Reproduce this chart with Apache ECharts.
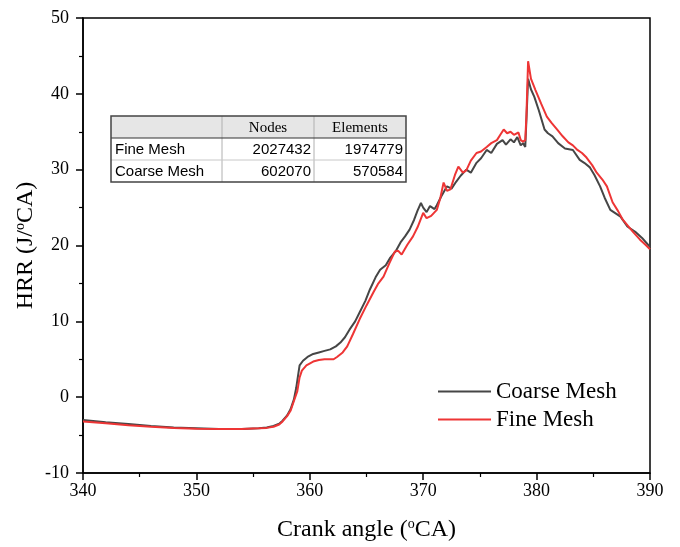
<!DOCTYPE html>
<html>
<head>
<meta charset="utf-8">
<script src="https://cdn.jsdelivr.net/npm/echarts@6/dist/echarts.min.js"></script>
<style>
html,body{margin:0;padding:0;background:#fff;}
#main{width:680px;height:547px;}
</style>
</head>
<body>
<div id="main"></div>
<script>
// ---- data ----
const coarseX = [340,342,344,346,348,350,352,354,355.5,356.2,356.8,357.3,357.6,358.0,358.3,358.6,358.8,359.0,359.1,359.4,359.8,360.3,360.8,361.3,361.8,362.3,362.7,363.1,363.5,364.0,364.4,364.9,365.3,365.8,366.2,366.7,367.1,367.6,368.0,368.4,368.8,369.2,369.5,369.8,370.0,370.3,370.6,371.0,371.2,371.6,372.1,372.5,372.9,373.3,373.8,374.2,374.7,375.1,375.6,376.0,376.5,377.0,377.3,377.7,378.0,378.3,378.6,378.8,379.0,379.1,379.25,379.5,379.8,380.2,380.7,381.0,381.4,381.9,382.5,383.2,383.8,384.2,384.7,385.1,385.6,386.0,386.5,387.0,387.4,388.0,388.7,389.3,390.0];
const coarseY = [-3.0,-3.3,-3.55,-3.8,-4.0,-4.1,-4.2,-4.2,-4.1,-4.0,-3.8,-3.5,-3.1,-2.4,-1.6,-0.3,1.2,3.2,4.2,4.8,5.3,5.7,5.9,6.1,6.3,6.7,7.2,7.9,8.9,10.0,11.2,12.7,14.2,15.8,16.8,17.4,18.4,19.3,20.4,21.2,22.1,23.4,24.6,25.6,25.0,24.4,25.2,24.8,25.3,26.5,27.8,27.5,28.4,29.2,30.0,29.6,30.9,31.5,32.6,32.2,33.4,33.9,33.3,34.0,33.6,34.3,33.2,33.5,33.0,36.5,42.0,40.6,39.6,37.8,35.3,34.8,34.4,33.5,32.8,32.6,31.3,30.9,30.3,29.3,27.8,26.3,24.7,24.2,23.8,22.5,21.8,21.0,19.8];

const fineX = [340,342,344,346,348,350,352,354,355.5,356.2,356.8,357.3,357.6,358.0,358.3,358.6,358.9,359.1,359.3,359.7,360.3,360.8,361.3,361.8,362.1,362.4,362.9,363.3,363.8,364.4,365.0,365.6,366.0,366.5,367.0,367.5,367.8,368.1,368.6,369.1,369.5,370.0,370.3,370.7,371.2,371.5,371.8,372.1,372.4,372.8,373.1,373.5,373.8,374.2,374.7,375.1,375.6,376.0,376.5,376.8,377.1,377.4,377.7,378.0,378.4,378.6,378.8,379.0,379.1,379.25,379.5,379.9,380.4,380.9,381.3,381.8,382.3,382.8,383.2,383.6,384.0,384.4,384.9,385.3,385.8,386.2,386.7,387.2,387.6,388.0,388.5,389.1,389.6,390.0];
const fineY = [-3.2,-3.45,-3.7,-3.9,-4.05,-4.15,-4.2,-4.2,-4.1,-4.05,-3.9,-3.6,-3.2,-2.5,-1.8,-0.5,0.8,2.6,3.5,4.2,4.7,4.9,5.0,5.0,5.0,5.3,5.9,6.7,8.3,10.3,12.1,13.8,14.9,15.9,17.6,19.2,19.3,18.8,20.1,21.2,22.4,24.3,23.6,23.9,24.7,26.2,28.3,27.2,27.4,29.3,30.4,29.6,29.9,31.2,32.2,32.4,33.0,33.5,33.9,34.6,35.3,34.8,35.0,34.6,34.9,33.9,33.7,33.9,37.0,44.3,42.0,40.5,38.7,37.0,36.2,35.3,34.4,33.6,33.2,32.6,32.2,31.6,30.6,29.6,28.7,27.8,25.7,24.5,23.4,22.7,21.8,20.8,20.1,19.5];

const seriesNames = ['Coarse Mesh', 'Fine Mesh'];
const tableHeader = ['', 'Nodes', 'Elements'];
const tableRows = [
  ['Fine Mesh', '2027432', '1974779'],
  ['Coarse Mesh', '602070', '570584']
];

// ---- chart ----
const serif = 'Liberation Serif, Times New Roman, serif';
const sans = 'Liberation Sans, Arial, sans-serif';
const chart = echarts.init(document.getElementById('main'), null, {renderer: 'canvas'});

function pairs(xs, ys){ return xs.map((x,i)=>[x, ys[i]]); }

// table graphic
const tL = 111, tT = 116, colX = [111, 222, 314, 406], rowY = [116, 138, 160, 182];
const g = [];
g.push({type:'rect', shape:{x:tL, y:tT, width:colX[3]-tL, height:rowY[1]-tT}, style:{fill:'#e6e6e6'}, z:10});
g.push({type:'rect', shape:{x:tL, y:rowY[1], width:colX[3]-tL, height:rowY[3]-rowY[1]}, style:{fill:'#fff'}, z:9});
[colX[1], colX[2]].forEach(x => g.push({type:'line', shape:{x1:x, y1:tT, x2:x, y2:rowY[3]}, style:{stroke:'#b0b0b0', lineWidth:1}, z:11}));
g.push({type:'line', shape:{x1:tL, y1:rowY[1], x2:colX[3], y2:rowY[1]}, style:{stroke:'#333', lineWidth:1}, z:11});
g.push({type:'line', shape:{x1:tL, y1:rowY[2], x2:colX[3], y2:rowY[2]}, style:{stroke:'#c8c8c8', lineWidth:1}, z:11});
g.push({type:'rect', shape:{x:tL, y:tT, width:colX[3]-tL, height:rowY[3]-tT}, style:{fill:null, stroke:'#444', lineWidth:1.5}, z:12});
tableHeader.forEach((h, j) => {
  if (!h) return;
  g.push({type:'text', x:(colX[j]+colX[j+1])/2, y:(rowY[0]+rowY[1])/2+1, style:{text:h, font:'15px ' + serif, fill:'#000', align:'center', verticalAlign:'middle'}, z:13});
});
tableRows.forEach((r, i) => {
  const cy = (rowY[i+1]+rowY[i+2])/2 + 1;
  r.forEach((c, j) => {
    if (j === 0) g.push({type:'text', x:colX[0]+4, y:cy, style:{text:c, font:'15px ' + sans, fill:'#000', align:'left', verticalAlign:'middle'}, z:13});
    else g.push({type:'text', x:colX[j+1]-3, y:cy, style:{text:c, font:'15px ' + sans, fill:'#000', align:'right', verticalAlign:'middle'}, z:13});
  });
});

const rich = {
  m: {fontSize: 24, fontFamily: serif, color: '#000', lineHeight: 26},
  sup: {fontSize: 14, fontFamily: serif, color: '#000', lineHeight: 10, verticalAlign: 'top'}
};

chart.setOption({
  animation: false,
  backgroundColor: '#fff',
  grid: {left: 83, right: 30, top: 18, bottom: 73, show: true, borderColor: '#000', borderWidth: 1.5, backgroundColor: 'transparent'},
  legend: {
    orient: 'vertical', left: 433, top: 375,
    icon: 'rect', itemWidth: 53, itemHeight: 2, itemGap: 5,
    textStyle: {fontFamily: serif, fontSize: 23, color: '#000'},
    data: seriesNames
  },
  xAxis: {
    type: 'value', min: 340, max: 390, interval: 10,
    axisLine: {onZero: false, lineStyle: {color: '#000', width: 1.5}},
    axisTick: {show: true, inside: false, length: 7, lineStyle: {color: '#000', width: 1.5}},
    minorTick: {show: true, splitNumber: 2, length: 4, lineStyle: {color: '#000', width: 1.2}},
    splitLine: {show: false},
    axisLabel: {fontFamily: serif, fontSize: 18, color: '#000', margin: 9},
    name: '{m|Crank angle (}{sup|o}{m|CA)}', nameLocation: 'middle', nameGap: 44, nameMoveOverlap: false,
    nameTextStyle: {fontFamily: serif, fontSize: 24, color: '#000', rich: rich}
  },
  yAxis: {
    type: 'value', min: -10, max: 50, interval: 10,
    axisLine: {onZero: false, lineStyle: {color: '#000', width: 1.5}},
    axisTick: {show: true, inside: false, length: 7, lineStyle: {color: '#000', width: 1.5}},
    minorTick: {show: true, splitNumber: 2, length: 4, lineStyle: {color: '#000', width: 1.2}},
    splitLine: {show: false},
    axisLabel: {fontFamily: serif, fontSize: 18, color: '#000', margin: 14},
    name: '{m|HRR (J/}{sup|o}{m|CA)}', nameLocation: 'middle', nameGap: 44, nameMoveOverlap: false,
    nameTextStyle: {fontFamily: serif, fontSize: 24, color: '#000', rich: rich}
  },
  graphic: g,
  series: [
    {name: seriesNames[0], type: 'line', data: pairs(coarseX, coarseY), showSymbol: false, symbol: 'none',
     lineStyle: {color: '#464646', width: 2}, itemStyle: {color: '#464646'}, z: 2},
    {name: seriesNames[1], type: 'line', data: pairs(fineX, fineY), showSymbol: false, symbol: 'none',
     lineStyle: {color: '#ee3535', width: 2}, itemStyle: {color: '#ee3535'}, z: 3}
  ]
});
</script>
</body>
</html>
